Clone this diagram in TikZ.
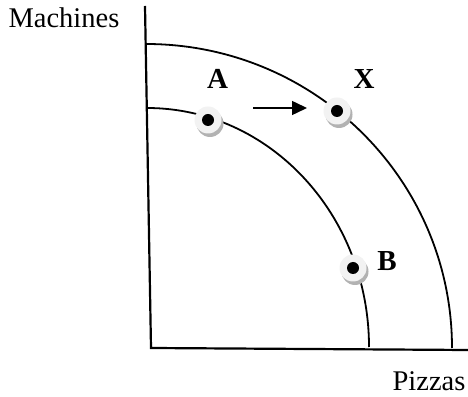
\documentclass[tikz,border=0pt]{standalone}
\usepackage{fontspec}
\setmainfont{Liberation Serif}
\usetikzlibrary{arrows.meta, shadows}

\begin{document}
\begin{tikzpicture}[x=1pt, y=1pt,
    dot/.style={circle, fill=gray!10, minimum size=27pt, inner sep=0pt,
        drop shadow={shadow xshift=2pt, shadow yshift=-3.5pt, fill=gray!60, opacity=1},
        path picture={\fill[black] (path picture bounding box.center) circle (6pt);}},
    lbl/.style={font=\fontsize{29}{34}\selectfont\bfseries},
    axislbl/.style={font=\fontsize{28.5}{33}\selectfont, anchor=base, inner sep=1pt}]
    \useasboundingbox (0,0) rectangle (468,396);

    % axes
    \draw[line width=2.2pt] (145,390) -- (151,48) -- (468,46);
    % the two frontiers
    \draw[line width=1.8pt] (146,352) arc[start angle=90, end angle=0, x radius=306, y radius=304];
    \draw[line width=1.8pt] (147,288) arc[start angle=90, end angle=0, x radius=222, y radius=239];

    \node[dot] (A) at (208,276) {};
    \node[dot] (X) at (337,285) {};
    \node[dot] (B) at (353,128) {};

    \node[lbl] (la) at (217.5,317) {A};
    \node[lbl] (lx) at (364,317) {X};
    \node[lbl] (lb) at (387,135) {B};

    \coordinate (s) at (253,288);
    \coordinate (e) at (307,288);
    \draw[line width=1.5pt, -{Triangle[length=15pt, width=14pt]}] (s) -- (e);

    \node[axislbl] (mach) at (64,368) {Machines};
    \node[axislbl] (piz) at (429,6) {Pizzas};
\end{tikzpicture}
\end{document}
